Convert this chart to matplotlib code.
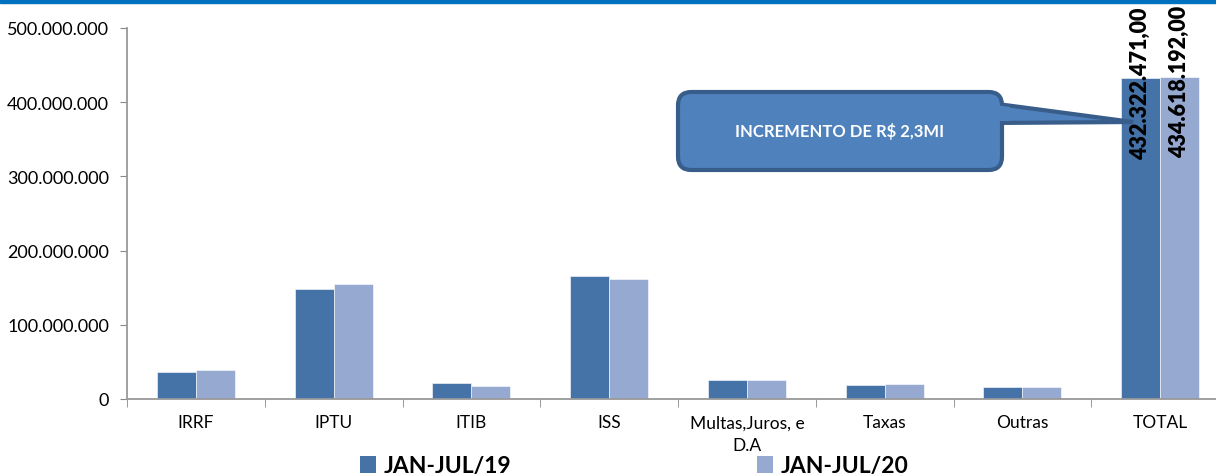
import numpy as np
import matplotlib.pyplot as plt
from matplotlib.patches import FancyBboxPatch, Polygon, Patch, Rectangle
from matplotlib.ticker import FuncFormatter

plt.rcParams['font.family'] = ['Lato', 'DejaVu Sans']

# DATA
categories = ['IRRF', 'IPTU', 'ITIB', 'ISS', 'Multas,Juros, e\nD.A', 'Taxas', 'Outras', 'TOTAL']
jan_jul_19 = [36.2e6, 148.5e6, 21.5e6, 165.8e6, 25.5e6, 18.8e6, 16.2e6, 432322471.00]
jan_jul_20 = [39.0e6, 155.0e6, 17.5e6, 161.5e6, 25.8e6, 20.5e6, 16.0e6, 434618192.00]
series_names = ['JAN-JUL/19', 'JAN-JUL/20']
callout_text = 'INCREMENTO DE R$ 2,3MI'

c19 = '#4572A7'
c20 = '#95A9D1'

W, H = 1216, 477
fig = plt.figure(figsize=(W / 100, H / 100), dpi=100)

def fx(px):
    return px / W

def fy(py):
    return 1 - py / H

# top blue strip
fig.patches.append(Rectangle((0, fy(4)), 1, 4 / H, transform=fig.transFigure,
                             color='#0070C0', zorder=0))

ax = fig.add_axes([fx(127), fy(400), fx(1229) - fx(127), fy(29) - fy(400)])
x = np.arange(len(categories))
bw = 0.283
ax.bar(x - bw / 2, jan_jul_19, bw, color=c19, edgecolor='white', linewidth=0.4)
ax.bar(x + bw / 2, jan_jul_20, bw, color=c20, edgecolor='white', linewidth=0.4)

ax.set_xlim(-0.5, len(categories) - 0.5)
ax.set_ylim(0, 500e6)
ax.yaxis.set_major_formatter(FuncFormatter(lambda v, p: f'{int(v):,}'.replace(',', '.')))
ax.set_yticks(np.arange(0, 500e6 + 1, 100e6))
ax.set_xticks(x)
ax.set_xticklabels(categories, fontsize=12.5, linespacing=1.55)
ax.set_xticks(np.arange(-0.5, len(categories), 1), minor=True)
ax.tick_params(axis='x', which='major', length=0, pad=11)
ax.tick_params(axis='x', which='minor', length=6, color='#888888')
ax.tick_params(axis='y', length=5, color='#888888', labelsize=13, pad=8)
for s in ['top', 'right']:
    ax.spines[s].set_visible(False)
for s in ['left', 'bottom']:
    ax.spines[s].set_color('#999999')
    ax.spines[s].set_linewidth(1.3)

# value labels on TOTAL
i = len(categories) - 1
for xx, v in [(i - bw / 2, jan_jul_19[i]), (i + bw / 2, jan_jul_20[i])]:
    lab = f'{v:,.2f}'.replace(',', 'X').replace('.', ',').replace('X', '.')
    ax.text(xx, v - 6e6, lab, rotation=90, ha='center', va='center',
            fontsize=15.5, fontweight='heavy', color='black')

# callout
fill = '#4F81BD'
edge = '#385D8A'
ptr = [(fx(990), fy(104)), (fx(1133), fy(123)), (fx(990), fy(124))]
fig.patches.append(Polygon(ptr, closed=True, transform=fig.transFigure,
                           facecolor=fill, edgecolor=edge, linewidth=3, zorder=5))
box = FancyBboxPatch((fx(678), fy(171)), fx(1002) - fx(678), fy(93) - fy(171),
                     boxstyle='round,pad=0,rounding_size=0.011',
                     transform=fig.transFigure, mutation_aspect=W / H,
                     facecolor=fill, edgecolor=edge, linewidth=3, zorder=6)
fig.patches.append(box)
cover = [(fx(995), fy(106)), (fx(1010), fy(108)), (fx(1010), fy(122)), (fx(995), fy(122))]
fig.patches.append(Polygon(cover, closed=True, transform=fig.transFigure,
                           facecolor=fill, edgecolor='none', zorder=7))
fig.text(fx(840), fy(132), callout_text, ha='center', va='center', color='white',
         fontsize=12, fontweight='bold', zorder=8)

# legend, one entry each so the gap matches
for name, col, xpos in [(series_names[0], c19, 360), (series_names[1], c20, 757)]:
    fig.legend([Patch(facecolor=col)], [name], loc='center left',
               bbox_to_anchor=(fx(xpos), fy(467)), borderpad=0, borderaxespad=0,
               frameon=False, handlelength=0.7, handleheight=0.7,
               handletextpad=0.35, prop={'size': 16.5, 'weight': 'bold'})

fig.savefig('out.png', dpi=100)
